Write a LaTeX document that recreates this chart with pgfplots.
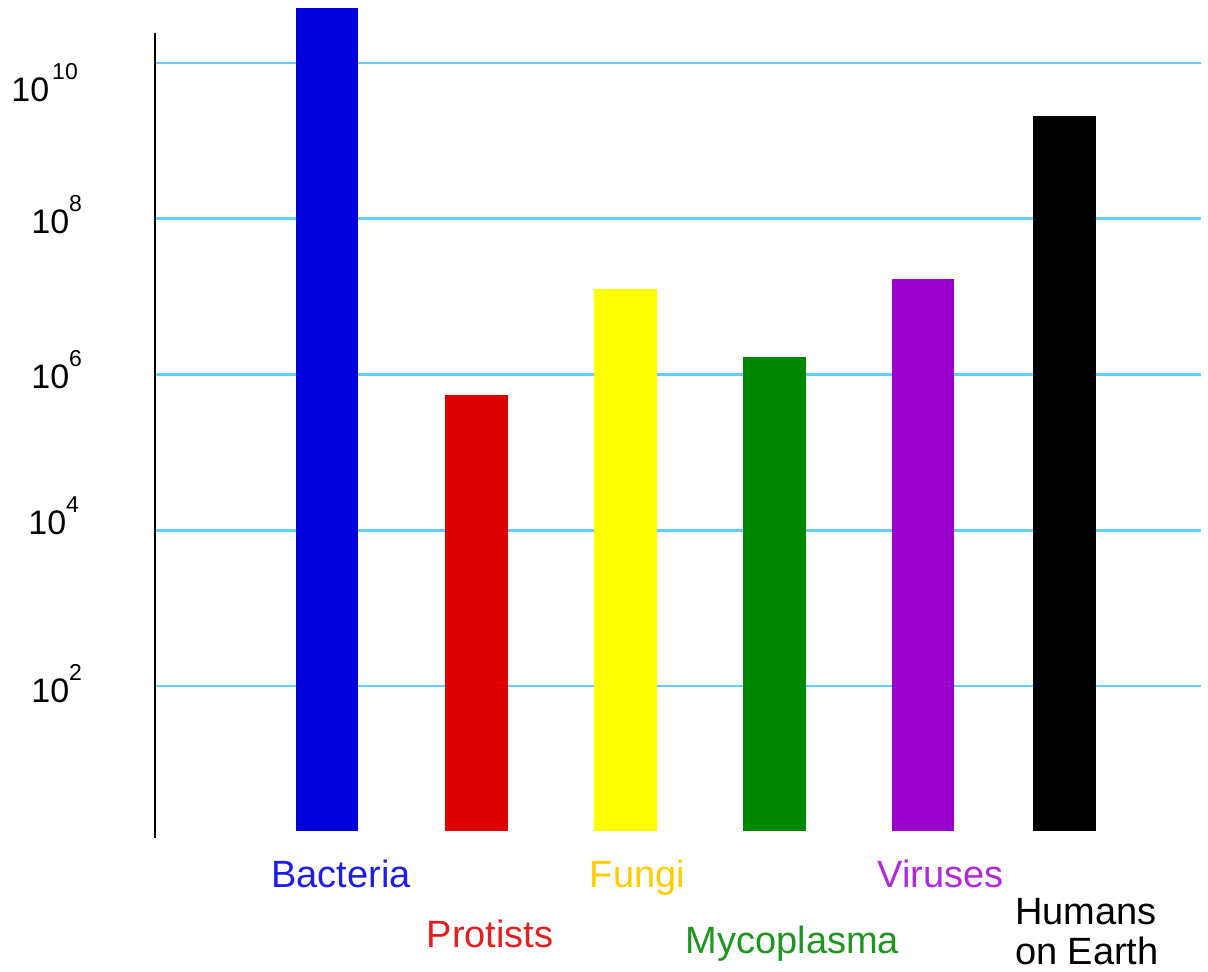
\documentclass[border=0pt]{standalone}
\usepackage{pgfplots}
\pgfplotsset{compat=1.18}
\usepackage{fontspec}
\setmainfont{Liberation Sans}
\definecolor{gridblue}{RGB}{100,204,255}
\definecolor{barblue}{RGB}{0,0,221}
\definecolor{barred}{RGB}{221,0,0}
\definecolor{baryellow}{RGB}{255,255,0}
\definecolor{bargreen}{RGB}{0,136,0}
\definecolor{barpurple}{RGB}{153,0,204}
\definecolor{txtblue}{RGB}{30,30,230}
\definecolor{txtred}{RGB}{230,30,30}
\definecolor{txtyellow}{RGB}{255,204,0}
\definecolor{txtgreen}{RGB}{30,150,30}
\definecolor{txtpurple}{RGB}{180,40,220}
\newcommand{\sups}[1]{\raisebox{11pt}{\fontsize{11.5}{12}\selectfont #1}}
\begin{document}
\begin{tikzpicture}
\begin{axis}[
  at={(77.5pt,70.5pt)}, anchor=south west,
  scale only axis, width=523pt, height=399pt,
  ymode=log, log basis y=10, log origin=infty,
  xmin=155, xmax=1201,
  ymin=1.374, ymax=2.427e10,
  clip=false,
  axis lines*=left,
  x axis line style={draw=none},
  y axis line style={black, line width=1pt, shorten <=-3.5pt},
  major tick length=0pt, minor tick length=0pt,
  yminorticks=false,
  ytick={1e2,1e4,1e6,1e8,1e10},
  yticklabels={
    \raisebox{-1pt}{10\sups{2}},
    \raisebox{5.5pt}{\hspace*{-1.5pt}10\sups{4}},
    \raisebox{0.5pt}{10\sups{6}},
    10\sups{8},
    \raisebox{-12pt}{\hspace*{-10pt}10\hspace{1.5pt}\sups{10}}},
  yticklabel style={anchor=base west, inner sep=0pt, xshift=-62pt, yshift=-7.5pt,
    font=\fontsize{17}{20}\selectfont},
  ymajorgrids,
  grid style={gridblue, line width=1.3pt},
  xtick={327,476.5,625.5,774.5,923,1064.5},
  xticklabels={
    \hspace*{14pt}\textcolor{txtblue}{Bacteria},
    \hspace*{13.5pt}\raisebox{-30pt}{\textcolor{txtred}{Protists}},
    \hspace*{12pt}\textcolor{txtyellow}{Fungi},
    \hspace*{18pt}\raisebox{-33pt}{\textcolor{txtgreen}{Mycoplasma}},
    \hspace*{17.5pt}\textcolor{txtpurple}{Viruses},
    \makebox[0pt][l]{\hspace*{-24.75pt}\raisebox{-18.5pt}{\vtop{\baselineskip=20pt\hbox{Humans}\hbox{on Earth}}}}},
  xticklabel style={anchor=base, inner sep=0pt, yshift=-28.5pt,
    font=\fontsize{19}{20}\selectfont},
]
\addplot[ybar, bar shift=0pt, bar width=62.5, fill=barblue, draw=none] coordinates {(327,5.08e10)};
\addplot[ybar, bar shift=0pt, bar width=62.5, fill=barred, draw=none] coordinates {(476.5,5.46e5)};
\addplot[ybar, bar shift=0pt, bar width=62.5, fill=baryellow, draw=none] coordinates {(625.5,1.25e7)};
\addplot[ybar, bar shift=0pt, bar width=62.5, fill=bargreen, draw=none] coordinates {(774.5,1.68e6)};
\addplot[ybar, bar shift=0pt, bar width=62.5, fill=barpurple, draw=none] coordinates {(923,1.68e7)};
\addplot[ybar, bar shift=0pt, bar width=62.5, fill=black, draw=none] coordinates {(1064.5,2.08e9)};
\end{axis}
\pgfresetboundingbox
\path[use as bounding box] (0,0) rectangle (604pt,486pt);
\end{tikzpicture}
\end{document}
